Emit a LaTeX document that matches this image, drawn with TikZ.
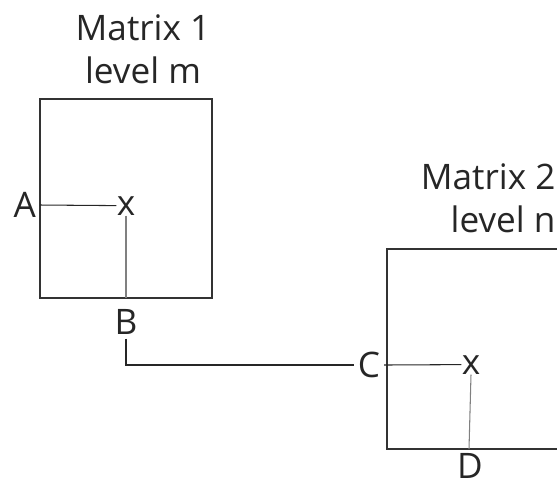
\documentclass[tikz,border=0pt]{standalone}
\usepackage{fontspec}
\setmainfont{Open Sans}
\usetikzlibrary{calc}

\begin{document}
\begin{tikzpicture}[
  x=0.02cm, y=-0.02cm,
  line width=0.6pt,
  every node/.style={font=\fontsize{20}{24.5}\selectfont, text=black!85},
  lbl/.style={inner sep=2pt},
  xmark/.style={inner sep=0pt},
  title/.style={inner sep=0pt},
  frame/.style={draw=black!80},
  wire/.style={draw=black!85},
  drop/.style={draw=black!50}
]
  \clip (0,0) rectangle (557,485);

  % matrix 1, level m
  \draw[frame] (40,99) rectangle (212,298);
  \node[title, align=center] (t1) at (143,49) {Matrix 1\\level m};
  \node[lbl, anchor=east] (A) at (40,205) {A};
  \node[xmark, anchor=base] (x1) at (126,215) {x};
  \coordinate (b1) at (126,298);
  \node[lbl] (B) at (126,322) {B};
  \draw[wire] (A.east) -- (x1.west);
  \draw[drop] (x1.south) -- (b1);

  % matrix 2, level n
  \draw[frame] (387,249) rectangle (620,449);
  \node[title, align=right, anchor=east] (t2) at (556,198) {Matrix 2\\level n};
  \node[lbl] (C) at (369,365) {C};
  \node[xmark, anchor=base] (x2) at (471,374) {x};
  \coordinate (d2) at (469,449);
  \node[lbl, inner sep=0pt] (D) at (470,466) {D};
  \draw[wire] (C.east) -- (x2.west);
  \draw[drop] (x2.south) -- (d2);

  % link between the two levels
  \draw[wire] (B.south) |- (C.west);
\end{tikzpicture}
\end{document}
